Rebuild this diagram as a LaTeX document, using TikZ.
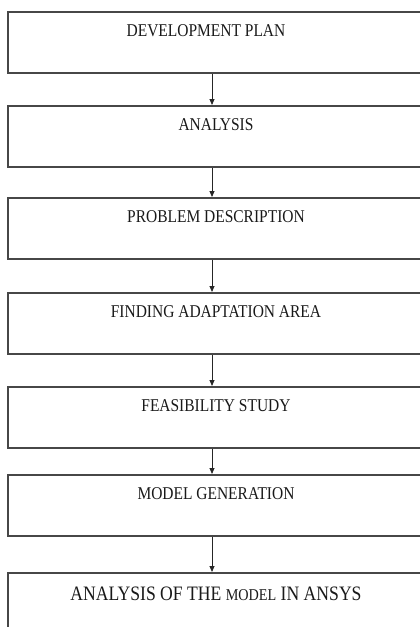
\documentclass[tikz,border=0pt]{standalone}
\usepackage{fontspec}
\setmainfont{Liberation Serif}[FakeStretch=0.86]
\usetikzlibrary{arrows.meta}

\begin{document}
\begin{tikzpicture}[x=1pt, y=-1pt]
	\tikzset{stage/.style = {draw=black!72, line width=1.6pt, minimum width=416pt, inner sep=0pt,
			text height=25pt, text depth=36pt, anchor=north, text=black!90,
			font=\fontsize{18}{20}\selectfont}}
	\tikzset{flow/.style = {draw=black!85, line width=0.8pt, -{Triangle[length=6pt, width=5pt]}}}
	\useasboundingbox (0,0) rectangle (420,627);
	\foreach \n/\y/\t in {1/11/\hspace*{-20pt}DEVELOPMENT PLAN, 2/105/ANALYSIS,
		3/197/PROBLEM DESCRIPTION, 4/292/FINDING ADAPTATION AREA,
		5/386/FEASIBILITY STUDY, 6/474/MODEL GENERATION}{
		\node[stage] (b\n) at (216,\y) {\t};
	}
	\node[stage, text height=28pt, text depth=60pt, font=\fontsize{20.5}{22}\selectfont] (b7) at (216,572)
		{ANALYSIS OF THE {\fontsize{16.5}{18}\selectfont MODEL} IN ANSYS};
	\foreach \a/\b in {1/2, 2/3, 3/4, 4/5, 5/6, 6/7}{
		\draw[flow] ([xshift=-4pt]b\a.south) -- ([xshift=-4pt]b\b.north);
	}
\end{tikzpicture}
\end{document}
